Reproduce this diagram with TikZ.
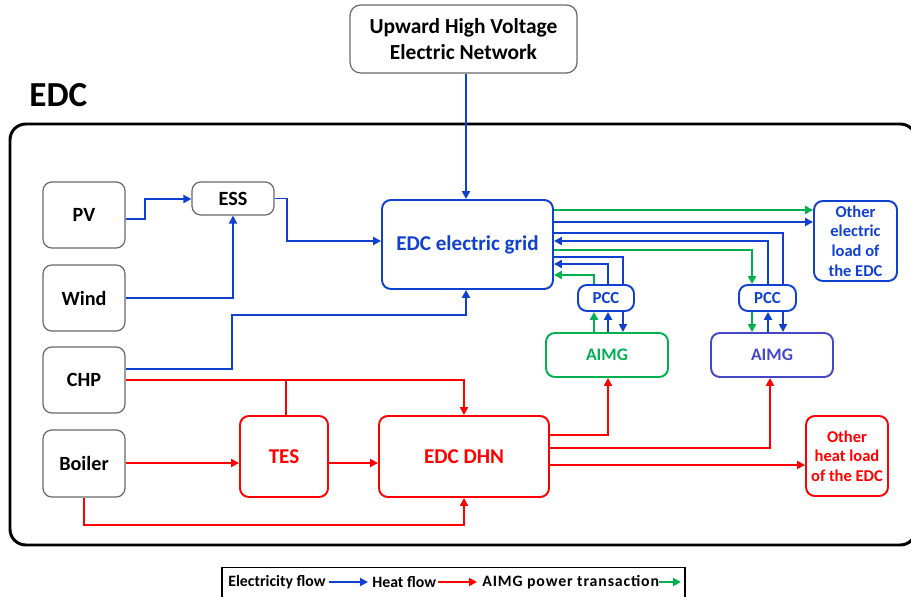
\documentclass[tikz,border=0pt]{standalone}
\usepackage{fontspec}
\setmainfont{Carlito}
\usetikzlibrary{arrows.meta}
\definecolor{eblue}{RGB}{16,64,208}
\definecolor{ablue}{RGB}{70,70,200}
\definecolor{egreen}{RGB}{0,176,80}
\definecolor{hred}{RGB}{255,0,0}
\definecolor{bgray}{RGB}{105,105,105}
\tikzset{
  base/.style={rounded corners=5pt, align=center, inner sep=1pt},
  gbox/.style={base, draw=bgray, line width=0.7pt, text=black, font=\bfseries\fontsize{11.5}{14}\selectfont},
  bbox/.style={base, draw=eblue, line width=1.1pt, text=eblue, font=\bfseries\fontsize{11.5}{14}\selectfont},
  rbox/.style={base, draw=hred, line width=1.1pt, text=hred, font=\bfseries\fontsize{11.5}{14}\selectfont},
  smallfont/.style={font=\bfseries\fontsize{9.4}{11.2}\selectfont},
  tip/.style={-{Triangle[length=4.5pt,width=4.5pt]}},
  el/.style={draw=eblue, line width=1.1pt, tip},
  elx/.style={draw=eblue, line width=1.1pt},
  ht/.style={draw=hred, line width=1.1pt, tip},
  htx/.style={draw=hred, line width=1.1pt},
  gr/.style={draw=egreen, line width=1.1pt, tip},
  grx/.style={draw=egreen, line width=1.1pt},
  legtext/.style={anchor=west, inner sep=0pt, font=\bfseries\fontsize{9}{11}\selectfont, text=black},
  frame/.style={draw=black, line width=1.7pt, rounded corners=9pt}
}
\begin{document}
\begin{tikzpicture}[x=0.02cm,y=-0.02cm]
\useasboundingbox (0,0) rectangle (911,597);

% outer EDC frame
\draw[frame] (10,124) rectangle (916,545);
\node[anchor=west, inner sep=0pt, font=\bfseries\fontsize{20}{24}\selectfont] (edc) at (29,95) {EDC};

% nodes
\node[gbox, minimum width=4.54cm, minimum height=1.36cm, rounded corners=6pt, font=\bfseries\fontsize{12.2}{14.6}\selectfont] (up) at (463.5,39) {Upward High Voltage\\Electric Network};
\node[gbox, minimum width=1.64cm, minimum height=1.32cm] (pv) at (84,215) {PV};
\node[gbox, minimum width=1.64cm, minimum height=1.32cm] (wind) at (84,298) {Wind};
\node[gbox, minimum width=1.64cm, minimum height=1.32cm] (chp) at (84,380) {CHP};
\node[gbox, minimum width=1.64cm, minimum height=1.34cm] (boiler) at (84,463.5) {Boiler};
\node[gbox, minimum width=1.64cm, minimum height=0.66cm] (ess) at (233,198.5) {ESS};
\node[bbox, minimum width=3.42cm, minimum height=1.78cm, font=\bfseries\fontsize{12}{14}\selectfont] (grid) at (467.5,244.5) {EDC electric grid};
\node[rbox, minimum width=1.76cm, minimum height=1.62cm, font=\bfseries\fontsize{12}{14}\selectfont] (tes) at (284,456.5) {TES};
\node[rbox, minimum width=3.4cm, minimum height=1.62cm, font=\bfseries\fontsize{12}{14}\selectfont] (dhn) at (464,456.5) {EDC DHN};
\node[bbox, minimum width=1.12cm, minimum height=0.52cm, font=\bfseries\fontsize{9.6}{11}\selectfont] (pcc1) at (606,298) {PCC};
\node[bbox, minimum width=1.14cm, minimum height=0.52cm, font=\bfseries\fontsize{9.6}{11}\selectfont] (pcc2) at (767.5,298) {PCC};
\node[base, draw=egreen, line width=1.1pt, text=egreen, minimum width=2.44cm, minimum height=0.88cm, font=\bfseries\fontsize{10}{12}\selectfont] (aimg1) at (607,355) {AIMG};
\node[base, draw=ablue, line width=1.1pt, text=ablue, minimum width=2.44cm, minimum height=0.88cm, font=\bfseries\fontsize{10}{12}\selectfont] (aimg2) at (772,355) {AIMG};
\node[bbox, smallfont, minimum width=1.66cm, minimum height=1.6cm] (oe) at (855.5,241) {Other\\electric\\load of\\the EDC};
\node[rbox, smallfont, minimum width=1.64cm, minimum height=1.6cm] (oh) at (847,456) {Other\\heat load\\of the EDC};

% electricity flows
\draw[el] (up.south -| 466,0) -- (grid.north -| 466,0);
\draw[el] (pv.east |- 0,219) -| (145,199) -- (ess.west |- 0,199);
\draw[el] (wind.east) -| (ess.south);
\draw[el] (ess.east) -| (287,241) -- (grid.west |- 0,241);
\draw[el] (chp.east |- 0,369) -| (232,315) -| (grid.south -| 466,0);

\draw[gr] (grid.east |- 0,210) -- (oe.west |- 0,210);
\draw[el] (grid.east |- 0,222) -- (oe.west |- 0,222);
\draw[elx] (grid.east |- 0,233) -| (pcc2.north -| 783,0);
\draw[el] (pcc2.north -| 768,0) |- (grid.east |- 0,241);
\draw[gr] (grid.east |- 0,250) -| (pcc2.north -| 752,0);
\draw[elx] (grid.east |- 0,257) -| (pcc1.north -| 623,0);
\draw[el] (pcc1.north -| 608,0) |- (grid.east |- 0,264);
\draw[gr] (pcc1.north -| 594,0) |- (grid.east |- 0,275);

\draw[gr] (aimg1.north -| 594,0) -- (pcc1.south -| 594,0);
\draw[el] (aimg1.north -| 608,0) -- (pcc1.south -| 608,0);
\draw[el] (pcc1.south -| 623,0) -- (aimg1.north -| 623,0);
\draw[gr] (pcc2.south -| 752,0) -- (aimg2.north -| 752,0);
\draw[el] (aimg2.north -| 768,0) -- (pcc2.south -| 768,0);
\draw[el] (pcc2.south -| 783,0) -- (aimg2.north -| 783,0);

% heat flows
\coordinate (split) at (286,380);
\draw[ht] (chp.east) -| (dhn.north);
\draw[htx] (tes.north -| split) -- (split);
\draw[ht] (boiler.east |- 0,463) -- (tes.west |- 0,463);
\draw[ht] (tes.east |- 0,463) -- (dhn.west |- 0,463);
\draw[ht] (boiler.south) |- (dhn.south |- 0,525) -- (dhn.south);
\draw[ht] (dhn.east |- 0,435) -| (aimg1.south -| 608,0);
\draw[ht] (dhn.east |- 0,448) -| (aimg2.south -| 770,0);
\draw[ht] (dhn.east |- 0,465) -- (oh.west |- 0,465);

% legend
\node[draw=black, line width=1.1pt, minimum width=9.26cm, minimum height=0.62cm, inner sep=0pt] (leg) at (453.5,583) {};
\node[legtext] (l1) at (228,582) {Electricity flow};
\coordinate (a1) at (368,582);
\draw[el] ([xshift=2pt]l1.east) -- (a1);
\node[legtext] (l2) at (372,582) {Heat flow};
\coordinate (a2) at (477,582);
\draw[ht] ([xshift=1pt]l2.east) -- (a2);
\node[legtext] (l3) at (482,582) {\addfontfeatures{LetterSpace=5.5}AIMG power transaction};
\coordinate (a3) at (681,582);
\draw[gr] (l3.east) -- (a3);
\end{tikzpicture}
\end{document}
